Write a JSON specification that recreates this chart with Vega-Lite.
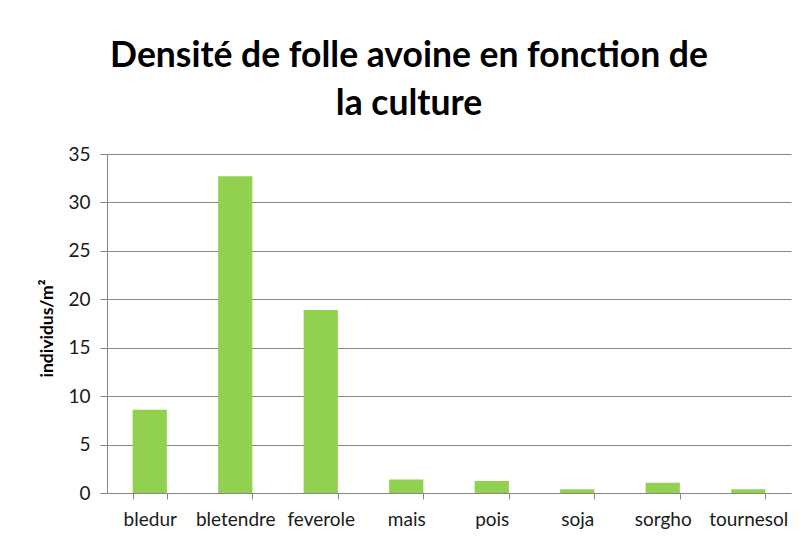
{
  "$schema": "https://vega.github.io/schema/vega-lite/v6.json",
  "autosize": {"type": "none"},
  "width": 684,
  "height": 339,
  "padding": {"left": 107, "top": 154, "right": 11, "bottom": 48},
  "background": "white",
  "config": {"view": {"stroke": null}, "font": "Lato"},
  "title": {
    "text": ["Densité de folle avoine en fonction de", "la culture"],
    "font": "Lato",
    "fontSize": 35.5,
    "fontWeight": "bold",
    "color": "#000000",
    "anchor": "middle",
    "dx": -40,
    "offset": 23,
    "lineHeight": 48
  },
  "data": {
    "values": [
      {"culture": "bledur", "densite": 8.6},
      {"culture": "bletendre", "densite": 32.7},
      {"culture": "feverole", "densite": 18.9},
      {"culture": "mais", "densite": 1.4},
      {"culture": "pois", "densite": 1.25},
      {"culture": "soja", "densite": 0.38},
      {"culture": "sorgho", "densite": 1.06},
      {"culture": "tournesol", "densite": 0.38}
    ]
  },
  "mark": {"type": "bar", "color": "#92D050"},
  "encoding": {
    "x": {
      "field": "culture",
      "type": "nominal",
      "sort": null,
      "scale": {"paddingInner": 0.6, "paddingOuter": 0.3},
      "axis": {
        "title": null,
        "labelAngle": 0,
        "labelFont": "Lato",
        "labelFontSize": 19,
        "labelColor": "#1a1a1a",
        "labelPadding": 11,
        "tickBand": "extent",
        "tickSize": 6,
        "tickColor": "#868686",
        "domainColor": "#868686",
        "grid": false
      }
    },
    "y": {
      "field": "densite",
      "type": "quantitative",
      "scale": {"domain": [0, 35], "nice": false},
      "axis": {
        "title": "individus/m²",
        "titleFont": "Lato",
        "titleFontSize": 17.5,
        "titleFontWeight": "bold",
        "titleColor": "#000000",
        "titleAngle": -90,
        "titleX": -60,
        "titleY": 174,
        "titleAlign": "center",
        "titleBaseline": "middle",
        "values": [0, 5, 10, 15, 20, 25, 30, 35],
        "labelFont": "Lato",
        "labelFontSize": 19,
        "labelColor": "#1a1a1a",
        "labelPadding": 10,
        "tickSize": 7,
        "tickColor": "#868686",
        "domainColor": "#868686",
        "gridColor": "#868686",
        "gridOpacity": 1
      }
    }
  }
}
